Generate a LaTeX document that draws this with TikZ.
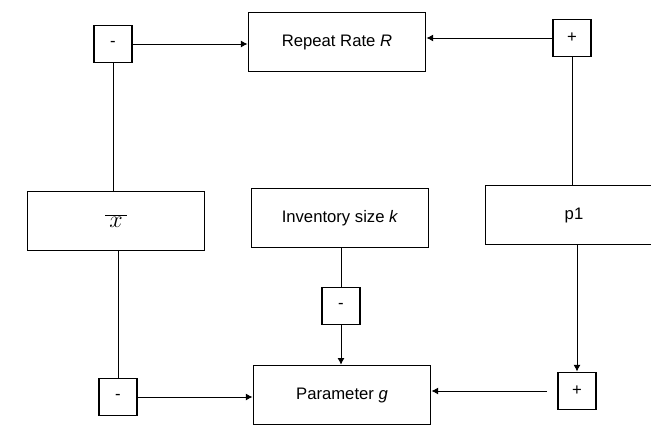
\documentclass[tikz,border=0pt]{standalone}
\usepackage{fontspec}
\setmainfont{Liberation Sans}
\usetikzlibrary{arrows.meta}

\begin{document}
\begin{tikzpicture}[
      x=0.6pt, y=-0.6pt,
      font=\fontsize{10}{12}\selectfont,
      box/.style={draw, line width=0.85pt, align=center, minimum height=35.5pt, minimum width=106.5pt, inner sep=0pt},
      sign/.style={draw, line width=0.85pt, minimum width=23pt, minimum height=22.5pt, inner sep=0pt},
      link/.style={line width=0.6pt},
      arr/.style={-{Latex[length=4pt, width=4.2pt]}, line width=0.6pt}
    ]
      \useasboundingbox (0,0) rectangle (651,425);
      \node[box] (rate) at (337,42) {Repeat Rate \textit{R}};
      \node[box] (xbar) at (116,221) {\fontsize{14}{16}\selectfont$\overline{\,x\,}$};
      \node[box] (inv) at (340,218) {Inventory size \textit{k}};
      \node[box] (p1) at (574,215) {p1};
      \node[box] (par) at (342,395) {Parameter \textit{g}};
      \node[sign] (m1) at (113,44) {-};
      \node[sign] (pl1) at (572,38) {+};
      \node[sign] (m3) at (341,306) {-};
      \node[sign] (m2) at (118,397) {-};
      \node[sign] (pl2) at (577,391) {+};
      \draw[arr] (m1.east) -- (m1.east -| rate.west);
      \draw[arr] (pl1.west) -- (pl1.west -| rate.east);
      \draw[link] (m1.south) -- (m1.south |- xbar.north);
      \draw[link] (pl1.south) -- (pl1.south |- p1.north);
      \draw[link] (xbar.south -| m2.north) -- (m2.north);
      \draw[arr] (m2.east) -- (m2.east -| par.west);
      \draw[link] (inv.south -| m3.north) -- (m3.north);
      \draw[arr] (m3.south) -- (m3.south |- par.north);
      \draw[arr] (p1.south -| pl2.north) -- (pl2.north);
      \draw[arr, shorten <=6pt] (pl2.west) -- (pl2.west -| par.east);
    \end{tikzpicture}
\end{document}
